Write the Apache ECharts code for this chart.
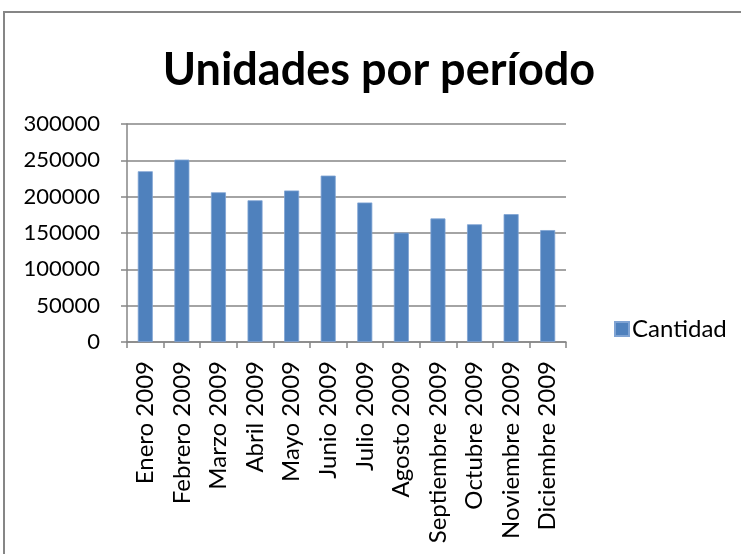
<!DOCTYPE html>
<html>
<head>
<meta charset="utf-8">
<script src="https://cdn.jsdelivr.net/npm/echarts@6/dist/echarts.min.js"></script>
<style>
  html, body { margin: 0; padding: 0; background: #fff; }
  #chart { width: 741px; height: 554px; }
</style>
</head>
<body>
<div id="chart"></div>
<script>
// Monthly units for 2009
const categories = [
  'Enero 2009', 'Febrero 2009', 'Marzo 2009', 'Abril 2009',
  'Mayo 2009', 'Junio 2009', 'Julio 2009', 'Agosto 2009',
  'Septiembre 2009', 'Octubre 2009', 'Noviembre 2009', 'Diciembre 2009'
];
const cantidad = [
  235000, 251000, 206000, 195000, 208500, 229000,
  192000, 150500, 170000, 162000, 176000, 154000
];
const yTicks = [0, 50000, 100000, 150000, 200000, 250000, 300000];

const FONT = 'Lato, "Open Sans", sans-serif';
const chart = echarts.init(document.getElementById('chart'), null, { renderer: 'canvas' });

chart.setOption({
  backgroundColor: '#ffffff',
  animation: false,
  title: {
    text: 'Unidades por período',
    left: 374,
    top: 43,
    textAlign: 'center',
    textStyle: { fontFamily: FONT, fontWeight: 'bold', fontSize: 45, color: '#000' }
  },
  graphic: [{
    type: 'rect',
    shape: { x: 4, y: 12, width: 800, height: 600 },
    style: { fill: 'none', stroke: '#868686', lineWidth: 2 },
    silent: true
  }],
  legend: {
    data: ['Cantidad'],
    left: 609,
    top: 312,
    icon: 'rect',
    itemWidth: 14,
    itemHeight: 14,
    itemGap: 0,
    textStyle: { fontFamily: FONT, fontSize: 24, color: '#000', padding: [0, 0, 0, -2] }
  },
  grid: { left: 127, right: 175, top: 124, bottom: 212, containLabel: false },
  xAxis: {
    type: 'category',
    data: categories,
    axisLine: { lineStyle: { color: '#868686', width: 1.5 } },
    axisTick: { show: true, length: 6, lineStyle: { color: '#868686', width: 1.5 } },
    axisLabel: {
      rotate: 90,
      margin: 19,
      interval: 0,
      fontFamily: FONT,
      fontSize: 24,
      color: '#000'
    }
  },
  yAxis: {
    type: 'value',
    min: yTicks[0],
    max: yTicks[yTicks.length - 1],
    interval: yTicks[1] - yTicks[0],
    axisLine: { show: true, lineStyle: { color: '#868686', width: 1.5 } },
    axisTick: { show: true, length: 6, lineStyle: { color: '#868686', width: 1.5 } },
    splitLine: { lineStyle: { color: '#868686', width: 1.5 } },
    axisLabel: {
      margin: 27,
      fontFamily: FONT,
      fontSize: 22,
      color: '#000',
      formatter: v => String(v)
    }
  },
  series: [{
    name: 'Cantidad',
    type: 'bar',
    data: cantidad,
    barWidth: 15,
    itemStyle: { color: '#4F81BD', borderColor: '#7FA3D3', borderWidth: 0.8 }
  }]
});
</script>
</body>
</html>
